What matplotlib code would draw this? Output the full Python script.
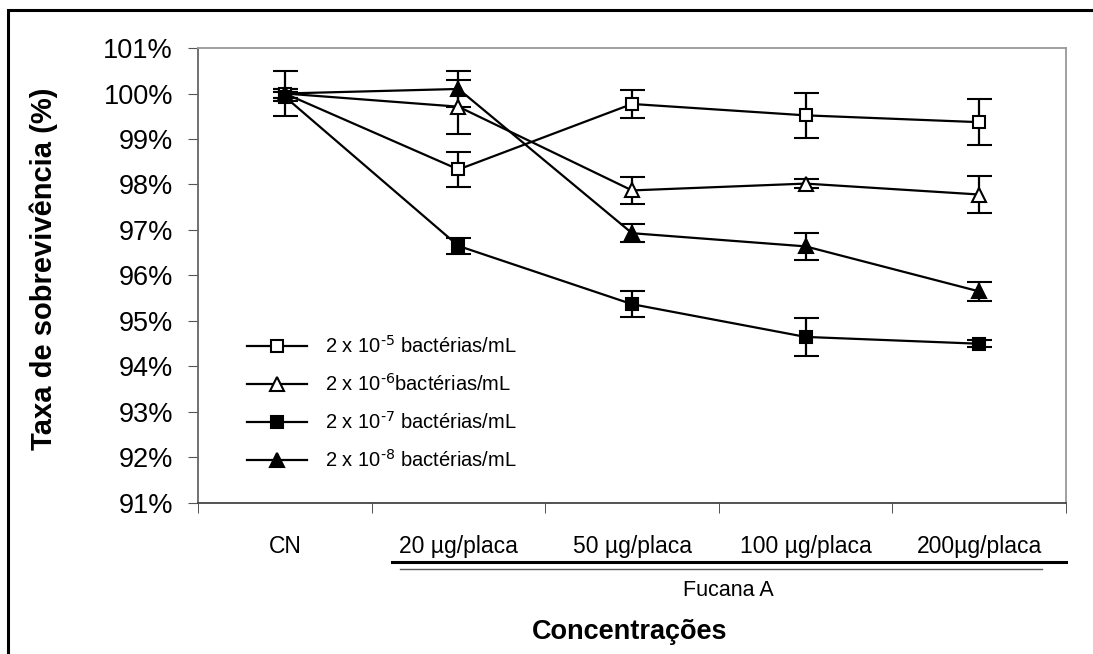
import matplotlib
matplotlib.use('Agg')
import matplotlib.pyplot as plt
from matplotlib.lines import Line2D
from matplotlib.patches import Rectangle

plt.rcParams['font.family'] = ['Liberation Sans', 'DejaVu Sans']
plt.rcParams['mathtext.default'] = 'regular'

categories = ['CN', '20 µg/placa', '50 µg/placa', '100 µg/placa', '200µg/placa']

# survival rate (%) and error for each bacterial dilution
s5 = [100.0, 98.33, 99.77, 99.52, 99.37]
e5 = [0.5, 0.39, 0.3, 0.5, 0.5]
s6 = [100.0, 99.71, 97.87, 98.02, 97.78]
e6 = [0.1, 0.59, 0.29, 0.1, 0.4]
s7 = [99.93, 96.65, 95.37, 94.65, 94.5]
e7 = [0.1, 0.18, 0.29, 0.42, 0.08]
s8 = [100.0, 100.1, 96.93, 96.64, 95.65]
e8 = [0.1, 0.4, 0.2, 0.3, 0.2]

labels = [r'2 x 10$^{\text{-5}}$ bactérias/mL', r'2 x 10$^{\text{-6}}$bactérias/mL',
          r'2 x 10$^{\text{-7}}$ bactérias/mL', r'2 x 10$^{\text{-8}}$ bactérias/mL']

fig = plt.figure(figsize=(10.93, 6.54), dpi=100)
ax = fig.add_axes([0.1812, 0.2309, 0.7941, 0.6957])

x = list(range(len(categories)))
styles = [
    (s5, e5, 's', 'white'),
    (s6, e6, '^', 'white'),
    (s7, e7, 's', 'black'),
    (s8, e8, '^', 'black'),
]
handles = []
for (vals, errs, mk, fc), lab in zip(styles, labels):
    ms = 10 if mk == '^' else 9
    ax.errorbar(x, vals, yerr=errs, color='black', lw=1.6, marker=mk,
                markersize=ms, markerfacecolor=fc,
                markeredgecolor='black', markeredgewidth=1.5,
                capsize=9, capthick=1.6, elinewidth=1.6, zorder=3)
    handles.append(Line2D([], [], color='black', lw=1.6, marker=mk,
                          markersize=ms, markerfacecolor=fc,
                          markeredgecolor='black', markeredgewidth=1.5))

ax.set_xlim(-0.5, 4.5)
ax.set_ylim(91, 101)
ax.set_yticks(range(91, 102))
ax.set_yticklabels(['%d%%' % v for v in range(91, 102)], fontsize=19.5)
ax.set_xticks(x)
ax.set_xticklabels(categories, fontsize=16.5)
ax.tick_params(axis='x', which='major', length=0, pad=23)
ax.set_xticks([i - 0.5 for i in range(6)], minor=True)
ax.tick_params(axis='x', which='minor', length=7, direction='out', color='#333333')
ax.tick_params(axis='y', length=7, direction='out', color='#555555', pad=11)

ax.spines['left'].set_color('#666666')
ax.spines['bottom'].set_color('#444444')
ax.spines['top'].set_color('#999999')
ax.spines['right'].set_color('#999999')
for s in ax.spines.values():
    s.set_linewidth(1.3)

leg = ax.legend(handles, labels, loc='lower left', bbox_to_anchor=(0.035, 0.03),
                frameon=False, fontsize=14.5, handlelength=3.0, handletextpad=0.9,
                labelspacing=0.8)

ax.set_ylabel('Taxa de sobrevivência (%)', fontsize=21, fontweight='bold')
ax.yaxis.set_label_coords(-0.161, 0.515)

# group lines under the Fucana A concentrations
fig.add_artist(Line2D([392 / 1093, 1066 / 1093], [1 - 562 / 654, 1 - 562 / 654],
                      color='black', lw=2.2))
fig.add_artist(Line2D([400 / 1093, 1042 / 1093], [1 - 569 / 654, 1 - 569 / 654],
                      color='#555555', lw=1.0))
fig.text(728 / 1093, 1 - 590 / 654, 'Fucana A', fontsize=15.5, ha='center', va='center')
fig.text(630 / 1093, 1 - 632 / 654, 'Concentrações', fontsize=19.5, fontweight='bold',
         ha='center', va='center')

# outer frame
fig.add_artist(Rectangle((8 / 1093, -0.05), 1.2, 1 - 10 / 654 + 0.05,
                         transform=fig.transFigure, fill=False, ec='black', lw=2.2))

fig.savefig('out.png', dpi=100)
